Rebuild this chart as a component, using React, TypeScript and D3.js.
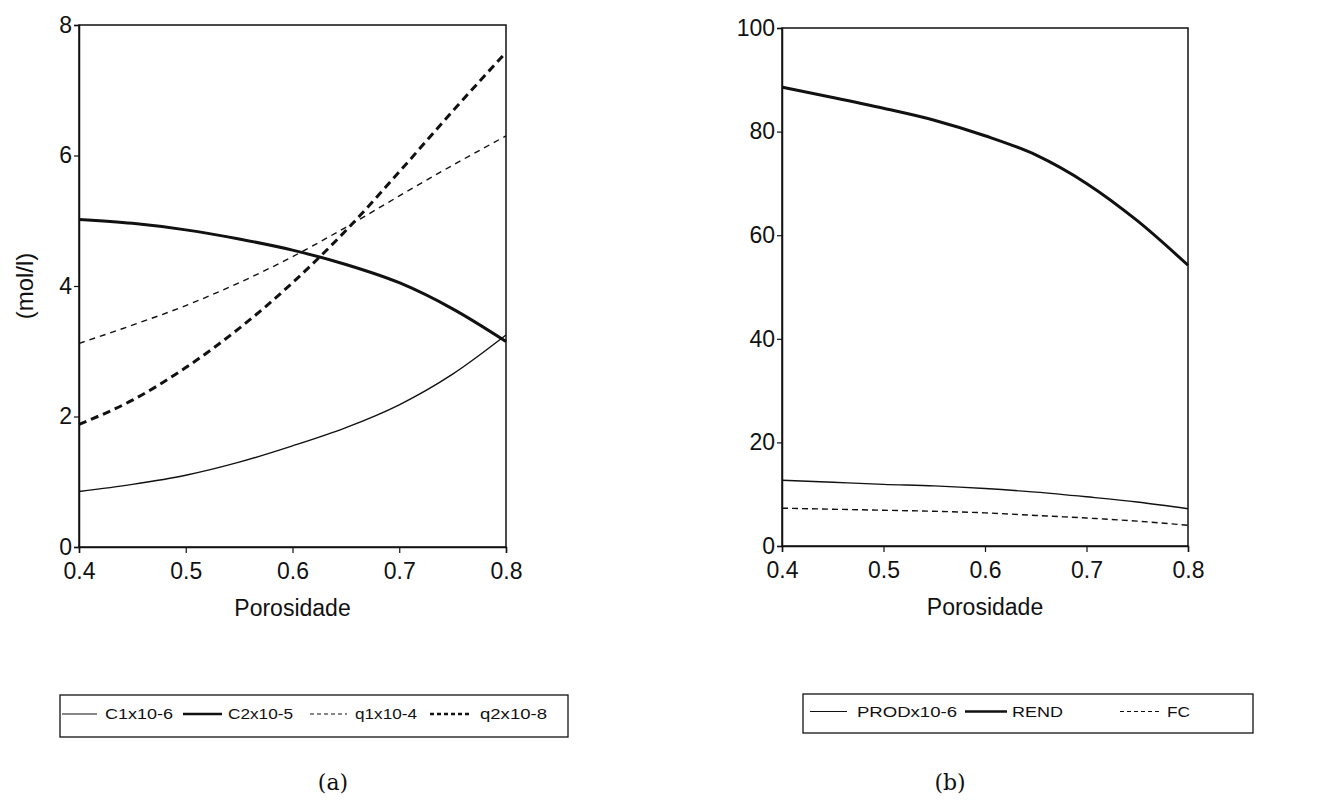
import React, { useEffect, useRef } from "react"
import * as d3 from "d3"

// porosity values shared by both panels
const porosity = [0.4, 0.45, 0.5, 0.55, 0.6, 0.65, 0.7, 0.75, 0.8]

// panel (a) series, (mol/l)
const c1 = [0.85, 0.96, 1.1, 1.3, 1.55, 1.83, 2.18, 2.65, 3.25]
const c2 = [5.02, 4.96, 4.86, 4.72, 4.55, 4.33, 4.05, 3.65, 3.15]
const q1 = [3.12, 3.4, 3.7, 4.05, 4.45, 4.9, 5.38, 5.85, 6.3]
const q2 = [1.88, 2.25, 2.75, 3.35, 4.05, 4.85, 5.75, 6.68, 7.58]

// panel (b) series
const prod = [12.7, 12.3, 11.9, 11.6, 11.1, 10.4, 9.5, 8.5, 7.2]
const rend = [88.6, 86.6, 84.5, 82.2, 79.2, 75.5, 70.0, 62.8, 54.2]
const fc = [7.3, 7.1, 6.9, 6.7, 6.4, 5.9, 5.4, 4.8, 4.0]

const xTicks = [0.4, 0.5, 0.6, 0.7, 0.8]
const yTicksA = [0, 2, 4, 6, 8]
const yTicksB = [0, 20, 40, 60, 80, 100]

type Series = { name: string; values: number[]; width: number; dash: string }

const seriesA: Series[] = [
  { name: "C1x10-6", values: c1, width: 1.4, dash: "" },
  { name: "C2x10-5", values: c2, width: 3, dash: "" },
  { name: "q1x10-4", values: q1, width: 1.4, dash: "6,5" },
  { name: "q2x10-8", values: q2, width: 3, dash: "8,5" },
]

const seriesB: Series[] = [
  { name: "PRODx10-6", values: prod, width: 1.4, dash: "" },
  { name: "REND", values: rend, width: 3, dash: "" },
  { name: "FC", values: fc, width: 1.4, dash: "6,4" },
]

const FONT = "'Liberation Sans', Arial, sans-serif"

const App = () => {
  const svgRef = useRef<SVGSVGElement | null>(null)

  useEffect(() => {
    if (!svgRef.current) return
    const svg = d3.select(svgRef.current)
    svg.selectAll("*").remove()

    const drawPanel = (
      box: { left: number; right: number; top: number; bottom: number },
      yMax: number,
      yTicks: number[],
      series: Series[],
      yLabel: string | null
    ) => {
      const x = d3.scaleLinear().domain([0.4, 0.8]).range([box.left, box.right])
      const y = d3.scaleLinear().domain([0, yMax]).range([box.bottom, box.top])
      const g = svg.append("g")

      // frame
      g.append("rect")
        .attr("x", box.left)
        .attr("y", box.top)
        .attr("width", box.right - box.left)
        .attr("height", box.bottom - box.top)
        .attr("fill", "none")
        .attr("stroke", "#111")
        .attr("stroke-width", 1.5)

      // axes
      const xAxis = d3.axisBottom(x).tickValues(xTicks).tickSize(6).tickFormat(d3.format(".1f"))
      const xg = g.append("g").attr("transform", `translate(0,${box.bottom})`).call(xAxis)
      const yAxis = d3.axisLeft(y).tickValues(yTicks).tickSize(5).tickPadding(2).tickFormat(d3.format("d"))
      const yg = g.append("g").attr("transform", `translate(${box.left},0)`).call(yAxis)
      ;[xg, yg].forEach(a => {
        a.select(".domain").attr("stroke", "#111").attr("stroke-width", 1.5)
        a.selectAll(".tick line").attr("stroke", "#111").attr("stroke-width", 1.2)
        a.selectAll("text")
          .attr("fill", "#111")
          .style("font-family", FONT)
          .style("font-size", "23px")
      })
      xg.selectAll("text").attr("dy", "0.95em").attr("y", 10)

      // x title
      g.append("text")
        .attr("x", (box.left + box.right) / 2)
        .attr("y", box.bottom + 69)
        .attr("text-anchor", "middle")
        .attr("fill", "#111")
        .style("font-family", FONT)
        .style("font-size", "23px")
        .text("Porosidade")

      if (yLabel) {
        g.append("text")
          .attr("transform", `translate(${box.left - 46},${(box.top + box.bottom) / 2}) rotate(-90)`)
          .attr("text-anchor", "middle")
          .attr("fill", "#111")
          .style("font-family", FONT)
          .style("font-size", "24px")
          .text(yLabel)
      }

      // lines
      const line = d3
        .line<number>()
        .x((d, i) => x(porosity[i]))
        .y(d => y(d))
        .curve(d3.curveMonotoneX)

      series.forEach(s => {
        g.append("path")
          .attr("d", line(s.values))
          .attr("fill", "none")
          .attr("stroke", "#111")
          .attr("stroke-width", s.width)
          .attr("stroke-dasharray", s.dash || null)
      })
    }

    const drawLegend = (
      box: { left: number; right: number; top: number; bottom: number },
      series: Series[],
      items: { x0: number; x1: number; tx: number; tw: number }[]
    ) => {
      const g = svg.append("g")
      g.append("rect")
        .attr("x", box.left)
        .attr("y", box.top)
        .attr("width", box.right - box.left)
        .attr("height", box.bottom - box.top)
        .attr("fill", "none")
        .attr("stroke", "#111")
        .attr("stroke-width", 1.3)
      const cy = (box.top + box.bottom) / 2 - 2
      series.forEach((s, i) => {
        const it = items[i]
        g.append("line")
          .attr("x1", it.x0)
          .attr("x2", it.x1)
          .attr("y1", cy)
          .attr("y2", cy)
          .attr("stroke", "#111")
          .attr("stroke-width", s.width * 0.8)
          .attr("stroke-dasharray", s.dash ? "4,3" : null)
        g.append("text")
          .attr("x", it.tx)
          .attr("y", cy)
          .attr("dy", "0.36em")
          .attr("textLength", it.tw)
          .attr("lengthAdjust", "spacingAndGlyphs")
          .attr("fill", "#111")
          .style("font-family", FONT)
          .style("font-size", "14px")
          .text(s.name)
      })
    }

    const caption = (cx: number, label: string) => {
      svg.append("text")
        .attr("x", cx)
        .attr("y", 790)
        .attr("text-anchor", "middle")
        .attr("fill", "#111")
        .style("font-family", "'DejaVu Serif', 'Liberation Serif', serif")
        .style("font-size", "22px")
        .text(label)
    }

    drawPanel({ left: 79, right: 506, top: 25, bottom: 547 }, 8, yTicksA, seriesA, "(mol/l)")
    drawPanel({ left: 782, right: 1188, top: 28, bottom: 546 }, 100, yTicksB, seriesB, null)

    drawLegend({ left: 60, right: 568, top: 695, bottom: 737 }, seriesA, [
      { x0: 62, x1: 97, tx: 105, tw: 68 },
      { x0: 183, x1: 222, tx: 228, tw: 65 },
      { x0: 310, x1: 347, tx: 355, tw: 62 },
      { x0: 430, x1: 472, tx: 480, tw: 67 },
    ])
    drawLegend({ left: 803, right: 1253, top: 694, bottom: 733 }, seriesB, [
      { x0: 810, x1: 847, tx: 857, tw: 100 },
      { x0: 965, x1: 1007, tx: 1012, tw: 51 },
      { x0: 1120, x1: 1160, tx: 1167, tw: 23 },
    ])

    caption(333, "(a)")
    caption(950, "(b)")
  }, [])

  return (
    <svg
      ref={svgRef}
      width={1343}
      height={800}
      style={{ position: "absolute", left: 0, top: 0, background: "#fff" }}
    ></svg>
  )
}

export default App
